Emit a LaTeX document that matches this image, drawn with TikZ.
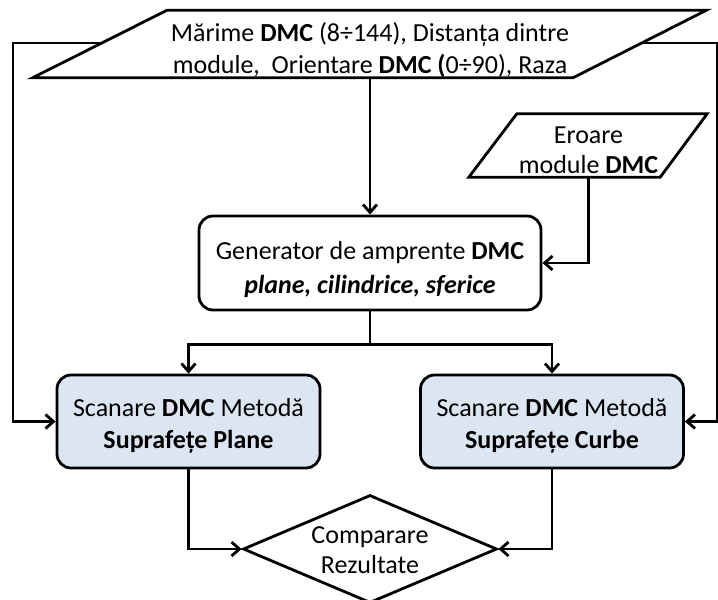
\documentclass[tikz,border=0pt]{standalone}
\usepackage{fontspec}
\setmainfont{Carlito}
\usetikzlibrary{arrows.meta,shapes.geometric,calc}
\definecolor{scanfill}{HTML}{DCE6F2}
% raise the first line's height so two-line labels sit a little lower
\newcommand\firststrut[1][26pt]{\rule{0pt}{#1}}
\tikzset{
  lbl/.style={font=\fontsize{26}{32}\selectfont, align=center, inner sep=0pt},
  frame/.style={draw, line width=2.8pt},
  procbox/.style={lbl, draw, line width=2.8pt, rounded corners=14pt, minimum height=94pt},
  scanbox/.style={procbox, fill=scanfill, minimum width=263pt, minimum height=93pt},
  link/.style={line width=2.8pt},
  arr/.style={link, -{Straight Barb[length=8pt,width=14pt]}},
}
\begin{document}
\begin{tikzpicture}[x=1pt,y=-1pt]
\useasboundingbox (0,0) rectangle (718,600);

% input data (parallelogram)
\node[lbl, minimum width=406pt, minimum height=62pt] (inp) at (370,44)
  {\firststrut[31pt]Mărime \textbf{DMC} (8÷144), Distanța dintre\\module,\ \ Orientare \textbf{DMC (}0÷90), Raza};
\draw[frame] ($(inp.south west)+(-134,0)$) -- (inp.north west)
  -- ($(inp.north east)+(133,0)$) -- (inp.south east) -- cycle;
\coordinate (inpL) at ($($(inp.south west)+(-134,0)$)!0.516!(inp.north west)$);
\coordinate (inpR) at ($(inp.south east)!0.516!($(inp.north east)+(133,0)$)$);

% module error input (parallelogram)
\node[lbl, minimum width=143pt, minimum height=63pt, font=\fontsize{26}{30}\selectfont] (err) at (588.5,145.5)
  {\firststrut Eroare\\module \textbf{DMC}};
\draw[frame] ($(err.south west)+(-48,0)$) -- (err.north west)
  -- ($(err.north east)+(47,0)$) -- (err.south east) -- cycle;

% generator
\node[procbox, minimum width=342pt, font=\fontsize{26}{34}\selectfont] (gen) at (370,263)
  {\firststrut[31pt]Generator de amprente \textbf{DMC}\\\textbf{\textit{plane, cilindrice, sferice}}};

% scanning methods
\node[scanbox] (scanP) at (188.5,421.5)
  {\firststrut Scanare \textbf{DMC} Metodă\\\textbf{Suprafețe Plane}};
\node[scanbox] (scanC) at (552,421.5)
  {\firststrut Scanare \textbf{DMC} Metodă\\\textbf{Suprafețe Curbe}};

% comparison
\node[diamond, frame, minimum width=254pt, minimum height=108pt, inner sep=0pt] (cmp) at (370,549) {};
\node[lbl, font=\fontsize{26}{30}\selectfont] (cmpT) at (370,550) {Comparare\\Rezultate};

% connectors
\draw[arr] (inp.south) -- (gen.north);
\draw[arr] (err.south) |- (gen.east);
\draw[arr] (gen.south) -- ++(0,33) -| (scanP.north);
\draw[arr] (gen.south) -- ++(0,33) -| (scanC.north);
\draw[arr] (inpL) -- ++(-89,0) |- (scanP.west);
\draw[arr] (inpR) -- ++(76,0) |- (scanC.east);
\draw[arr] (scanP.south) |- (cmp.west);
\draw[arr] (scanC.south) |- (cmp.east);
\end{tikzpicture}
\end{document}
